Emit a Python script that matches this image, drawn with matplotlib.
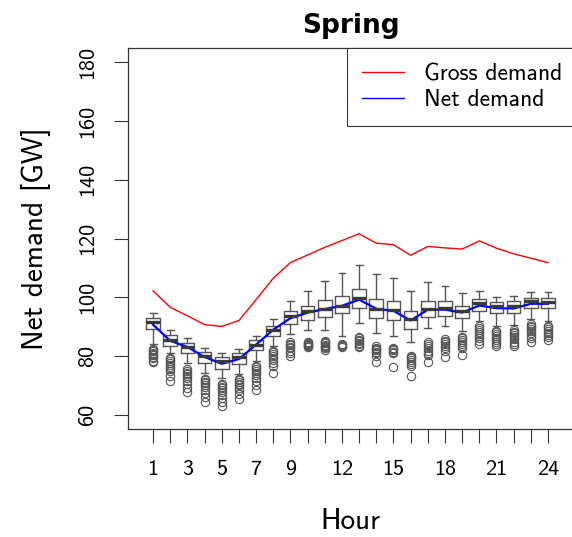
import matplotlib.pyplot as plt

plt.rcParams['font.family'] = ['cmss10', 'DejaVu Sans']
plt.rcParams['axes.formatter.use_mathtext'] = True

hours = list(range(1, 25))
hourLabels = ['1', '', '3', '', '5', '', '7', '', '9', '', '', '12',
              '', '', '15', '', '', '18', '', '', '21', '', '', '24']
yTicks = [60, 80, 100, 120, 140, 160, 180]

# hourly demand curves [GW]
grossDemand = [102.2, 96.6, 93.7, 90.7, 90.1, 92.1, 99.2, 106.5, 111.8, 114.4, 117.0, 119.3,
               121.6, 118.4, 117.9, 114.3, 117.3, 116.8, 116.4, 119.2, 116.7, 114.8, 113.3, 111.8]
netDemand = [90.7, 85.2, 83.1, 79.7, 77.4, 79.0, 83.9, 89.0, 92.9, 94.8, 96.0, 97.1,
             99.2, 96.1, 95.4, 92.1, 95.8, 95.8, 94.8, 97.2, 96.3, 96.2, 97.8, 97.8]

# box statistics of net demand per hour
whiskerLow = [84.2, 81.0, 77.5, 74.2, 72.5, 74.0, 78.5, 83.6, 87.5, 89.0, 89.0, 87.0,
              91.2, 87.8, 86.7, 84.7, 89.5, 90.3, 88.4, 91.8, 90.3, 90.7, 92.6, 92.1]
q1 = [89.2, 83.6, 81.0, 77.7, 75.7, 77.4, 82.0, 86.7, 91.0, 92.4, 93.3, 94.6,
      96.3, 92.9, 92.4, 89.3, 93.2, 93.5, 92.9, 95.5, 94.6, 94.8, 96.3, 96.3]
median = [91.6, 85.6, 83.1, 80.0, 78.2, 79.7, 83.9, 89.0, 93.7, 95.2, 96.0, 97.1,
          99.9, 96.1, 95.7, 92.6, 96.1, 96.3, 95.2, 98.0, 97.1, 97.1, 98.6, 98.3]
q3 = [92.8, 87.3, 84.6, 81.3, 79.7, 80.9, 85.6, 90.3, 95.2, 97.1, 99.0, 100.6,
      102.8, 99.4, 98.6, 95.2, 98.8, 98.8, 96.9, 99.4, 98.5, 98.6, 99.9, 99.9]
whiskerHigh = [94.6, 89.0, 86.1, 82.7, 81.0, 82.4, 86.9, 92.7, 98.8, 102.2, 105.4, 108.2,
               111.0, 107.9, 106.5, 102.3, 105.2, 104.0, 101.4, 102.0, 100.1, 100.5, 101.9, 101.9]
outliers = [
    [82.5, 82.0, 81.6, 81.2, 80.8, 80.3, 79.8, 79.2, 78.5, 77.9],
    [79.5, 79.0, 78.4, 77.8, 77.1, 76.4, 75.6, 74.8, 73.4, 71.7],
    [75.7, 75.0, 74.4, 73.8, 73.1, 72.4, 71.5, 70.5, 69.2, 67.7],
    [72.3, 71.8, 71.3, 70.8, 70.2, 69.5, 68.6, 67.5, 66.0, 64.3],
    [70.6, 70.1, 69.6, 69.0, 68.4, 67.7, 66.8, 65.6, 64.3, 63.0],
    [72.3, 71.8, 71.2, 70.6, 70.0, 69.2, 68.3, 67.2, 65.5],
    [76.8, 76.2, 75.6, 75.0, 74.4, 73.6, 72.6, 71.4, 70.0, 68.6],
    [81.9, 81.4, 80.8, 80.2, 79.5, 78.7, 77.8, 76.6, 74.3],
    [84.7, 84.2, 83.7, 83.2, 82.6, 81.9, 81.1, 80.2],
    [84.8, 84.5, 84.2, 83.9, 83.6, 83.3, 83.0],
    [85.1, 84.7, 84.3, 83.9, 83.5, 83.1, 82.6, 82.2],
    [84.0, 83.7, 83.4, 83.1],
    [86.4, 86.0, 85.5, 85.0, 84.5, 84.0, 83.5, 83.0],
    [83.3, 82.9, 82.5, 82.0, 81.5, 80.9, 80.0, 77.9],
    [82.8, 82.4, 82.0, 81.5, 80.9, 76.2],
    [80.2, 79.7, 79.2, 78.6, 78.0, 77.4, 76.5, 73.1],
    [84.7, 84.0, 83.3, 82.6, 81.9, 81.2, 80.4, 77.9],
    [85.9, 85.3, 84.7, 84.0, 83.3, 82.6, 81.8, 79.6],
    [86.6, 86.0, 85.4, 84.8, 84.1, 83.4, 82.6, 80.4],
    [90.1, 89.5, 88.9, 88.3, 87.6, 86.9, 86.1, 85.2, 84.1],
    [88.7, 88.1, 87.5, 86.9, 86.2, 85.5, 84.7, 84.0, 83.3],
    [88.9, 88.3, 87.7, 87.1, 86.4, 85.7, 84.9, 84.2, 83.6],
    [91.0, 90.4, 89.8, 89.2, 88.5, 87.8, 87.0, 86.1, 84.9],
    [90.4, 89.8, 89.2, 88.6, 87.9, 87.2, 86.4, 85.6],
]

boxStats = []
for i in range(len(hours)):
    boxStats.append({'whislo': whiskerLow[i], 'q1': q1[i], 'med': median[i],
                     'q3': q3[i], 'whishi': whiskerHigh[i], 'fliers': outliers[i]})

fig = plt.figure(figsize=(5.72, 5.37), dpi=100)
ax = fig.add_axes([0.2238, 0.2011, 0.778, 0.7095])

boxColor = '#555555'
ax.bxp(boxStats, positions=hours, widths=0.8, capwidths=0.4, manage_ticks=False,
       boxprops=dict(color=boxColor, lw=1.0),
       whiskerprops=dict(color=boxColor, lw=1.0),
       capprops=dict(color=boxColor, lw=1.0),
       medianprops=dict(color='#3a3a3a', lw=2.4, solid_capstyle='butt'),
       flierprops=dict(marker='o', markerfacecolor='none', markeredgecolor=boxColor,
                       markersize=6, markeredgewidth=0.8))

ax.plot(hours, grossDemand, color='red', lw=1.0, label='Gross demand')
ax.plot(hours, netDemand, color='blue', lw=1.6, label='Net demand')

ax.set_xlim(-0.46, 25.46)
ax.set_ylim(55.2, 184.8)
ax.set_xticks(hours)
ax.set_xticklabels(hourLabels)
ax.set_yticks(yTicks)
ax.set_yticklabels([str(t) for t in yTicks], rotation=90, va='center')
ax.tick_params(axis='both', labelsize=16, length=10, width=0.8, color='#333333')
ax.tick_params(axis='x', pad=12)
ax.tick_params(axis='y', pad=12)
for spine in ax.spines.values():
    spine.set_color('#333333')
    spine.set_linewidth(0.9)

ax.set_xlabel('Hour', fontsize=21, va='center')
ax.xaxis.set_label_coords(0.5, -0.244)
ax.set_ylabel('Net demand [GW]', fontsize=21, va='center')
ax.yaxis.set_label_coords(-0.206, 0.5)

fig.text(0.6128, 1 - 33 / 537, 'Spring', fontsize=19, fontweight='bold',
         family='DejaVu Sans', ha='center', va='baseline')

leg = ax.legend(loc='upper left', bbox_to_anchor=(0.492, 1.0), borderaxespad=0,
                fontsize=17, fancybox=False, framealpha=1, edgecolor='#333333',
                handlelength=1.75, handletextpad=0.85, borderpad=0.65, labelspacing=0.15)
leg.get_frame().set_linewidth(0.8)
for handle in leg.get_lines():
    handle.set_linewidth(1.0)

fig.savefig('out.png', dpi=100)
